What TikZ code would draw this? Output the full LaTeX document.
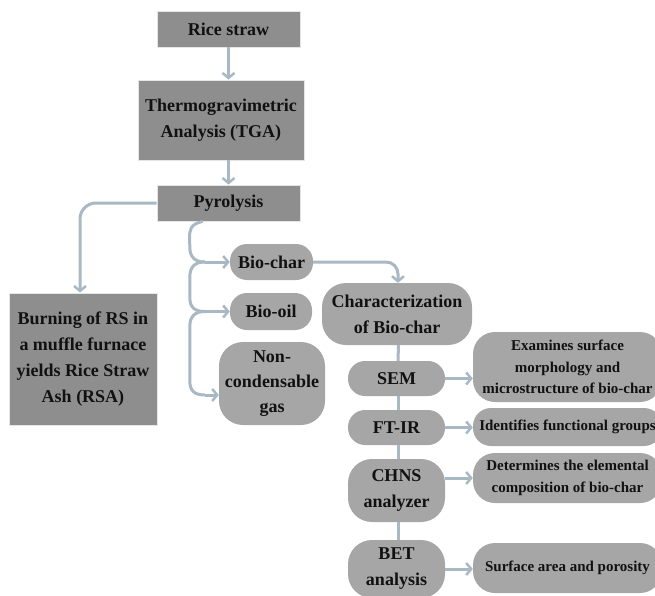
\documentclass[tikz,border=0pt]{standalone}
\usepackage{fontspec}
\setmainfont{Liberation Serif}
\usetikzlibrary{arrows.meta,calc}
\definecolor{rectfill}{HTML}{8E8E8E}
\definecolor{pillfill}{HTML}{A6A6A6}
\definecolor{conn}{HTML}{A9B9C4}
\definecolor{txt}{HTML}{111111}
\tikzset{
  basebox/.style={inner sep=0pt, align=center, text=txt,
    font=\fontsize{18}{26}\selectfont\bfseries},
  rectbox/.style={basebox, rectangle, fill=rectfill, draw=white!80!gray, line width=0.8pt},
  pillbox/.style={basebox, rectangle, fill=pillfill, rounded corners=17pt},
  bigpill/.style={pillbox, rounded corners=24pt},
  infobox/.style={pillbox, rounded corners=22pt, font=\fontsize{15}{21.5}\selectfont\bfseries},
  connector/.style={draw=conn, line width=3pt},
  arrowconn/.style={connector, -{Straight Barb[length=5pt,width=12pt,line width=2.5pt]}},
}
\begin{document}
\begin{tikzpicture}[x=1pt,y=-1pt]
\useasboundingbox (0,0) rectangle (655,596);
% main column
\node[rectbox, minimum width=143pt, minimum height=36pt] (rice) at (228.5,29) {Rice straw};
\node[rectbox, minimum width=166pt, minimum height=80pt] (tga) at (221,120) {Thermogravimetric\\Analysis (TGA)};
\node[rectbox, minimum width=143pt, minimum height=36pt] (pyro) at (228.5,203) {Pyrolysis};
\node[rectbox, minimum width=148pt, minimum height=132pt] (rsa) at (83,359) {Burning of RS in\\a muffle furnace\\yields Rice Straw\\Ash (RSA)};
% products
\node[pillbox, minimum width=83pt, minimum height=36pt] (biochar) at (271.5,262) {Bio-char};
\node[pillbox, minimum width=82pt, minimum height=37pt] (biooil) at (271,311.5) {Bio-oil};
\node[bigpill, minimum width=106pt, minimum height=83pt, font=\fontsize{18}{25}\selectfont\bfseries] (noncond) at (272,383.5) {Non-\\condensable\\gas};
% characterization
\node[bigpill, minimum width=150pt, minimum height=62pt] (charact) at (397,314) {Characterization\\of Bio-char};
\node[pillbox, minimum width=97pt, minimum height=35pt] (sem) at (396.5,378.5) {SEM};
\node[pillbox, minimum width=97pt, minimum height=35pt] (ftir) at (396.5,427.5) {FT-IR};
\node[bigpill, minimum width=97pt, minimum height=63pt] (chns) at (396.5,490.5) {CHNS\\analyzer};
\node[bigpill, minimum width=97pt, minimum height=58pt] (bet) at (396.5,569) {BET\\analysis};
% info boxes
\node[infobox, minimum width=189pt, minimum height=70pt] (examines) at (567.5,367) {Examines surface\\morphology and\\microstructure of bio-char};
\node[infobox, minimum width=189pt, minimum height=38pt, rounded corners=18pt] (identifies) at (567.5,427) {Identifies functional groups};
\node[infobox, minimum width=189pt, minimum height=50pt] (determines) at (567.5,478) {Determines the elemental\\composition of bio-char};
\node[infobox, minimum width=189pt, minimum height=50pt] (surface) at (567.5,568) {Surface area and porosity};
% main arrows
\draw[arrowconn] (rice.south) -- (rice.south |- tga.north);
\draw[arrowconn] (tga.south -| rice.south) -- (pyro.north);
\draw[arrowconn, rounded corners=16pt] (pyro.west) -| ([xshift=-3pt]rsa.north);
% brace connectors to products
\coordinate (p0) at ($(pyro.south west)+(46,0)$);
\coordinate (j1) at ($(biochar.west)+(-25,0)$);
\coordinate (j2) at ($(biooil.west)+(-25,0)$);
\coordinate (ncin) at ([yshift=-11.5pt]noncond.west);
\coordinate (j3) at ($(ncin)+(-14,0)$);
\draw[connector] (p0) .. controls ($(p0)+(-13,3)$) and ($(p0)+(-13,9)$) .. ($(p0)+(-13,17)$)
   -- ($(j1)+(-15,-15)$) .. controls ($(j1)+(-15,-5)$) and ($(j1)+(-10,0)$) .. (j1);
\draw[arrowconn] (j1) -- (biochar.west);
\draw[connector] (j1) .. controls ($(j1)+(-10,0)$) and ($(j1)+(-15,5)$) .. ($(j1)+(-15,15)$)
   -- ($(j2)+(-15,-14)$) .. controls ($(j2)+(-15,-4)$) and ($(j2)+(-10,0)$) .. (j2);
\draw[arrowconn] (j2) -- (biooil.west);
\draw[connector] (j2) .. controls ($(j2)+(-10,0)$) and ($(j2)+(-15,5)$) .. ($(j2)+(-15,15)$)
   -- ($(j3)+(-15,-14)$) .. controls ($(j3)+(-15,-4)$) and ($(j3)+(-10,0)$) .. (j3);
\draw[arrowconn] (j3) -- (ncin);
% bio-char to characterization
\draw[arrowconn, rounded corners=12pt] (biochar.east) -| ([xshift=1pt]charact.north);
% vertical spine
\draw[connector] ([xshift=1.5pt]charact.south) -- ([xshift=1.5pt]sem.north);
\draw[connector] ([xshift=1.5pt]sem.south) -- ([xshift=1.5pt]ftir.north);
\draw[connector] ([xshift=1.5pt]ftir.south) -- ([xshift=1.5pt]chns.north);
\draw[connector] ([xshift=1.5pt]chns.south) -- ([xshift=1.5pt]bet.north);
% technique arrows
\draw[arrowconn] (sem.east) -- (sem.east -| examines.west);
\draw[arrowconn] (ftir.east) -- (ftir.east -| identifies.west);
\draw[arrowconn] (chns.east |- determines.west) -- (determines.west);
\draw[arrowconn] (bet.east) -- (bet.east -| surface.west);
\end{tikzpicture}
\end{document}
